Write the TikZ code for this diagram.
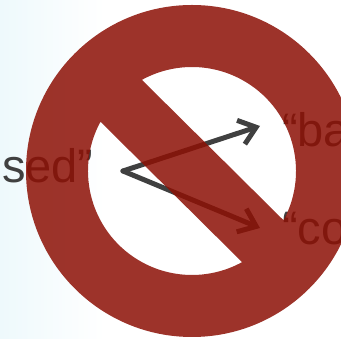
\documentclass[tikz,border=0pt]{standalone}
\usepackage{fontspec}
\setmainfont{Liberation Sans}
\usetikzlibrary{arrows.meta}
\definecolor{paleblue}{RGB}{238,249,252}
\definecolor{wordgray}{RGB}{64,64,64}
\definecolor{signred}{RGB}{141,16,5}
\tikzset{word/.style={anchor=base west,inner sep=0pt,text=wordgray,font=\fontsize{47}{47}\selectfont},
	pointer/.style={wordgray,line width=5pt,line cap=round,line join=round,-{Straight Barb[length=16pt,width=25pt,line width=5pt]}}}
\begin{document}
\begin{tikzpicture}[x=1pt,y=1pt]
		\useasboundingbox (0,0) rectangle (341,339);
		\fill[white] (0,0) rectangle (341,339);
		\fill[left color=paleblue,right color=white] (0,0) rectangle (105,339);
		
		\node[word] (sed) at (2,156) {sed”};
		\node[word] (ba) at (282,192) {“ba};
		\node[word] (co) at (282,94) {“co};
		
		\coordinate (fork) at (123,168);
		\coordinate (batip) at (260,213);
		\coordinate (cotip) at (260,111);
		\draw[pointer] (fork) to (batip);
		\draw[pointer] (fork) to (cotip);
		
		\fill[signred,fill opacity=.85,even odd rule] (192,168) circle (166)
			(192,168) ++(-28.3:104) arc[start angle=-28.3,end angle=118.8,radius=104] -- cycle
			(192,168) ++(151.7:104) arc[start angle=151.7,end angle=298.8,radius=104] -- cycle;%sign
		
	\end{tikzpicture}
\end{document}
